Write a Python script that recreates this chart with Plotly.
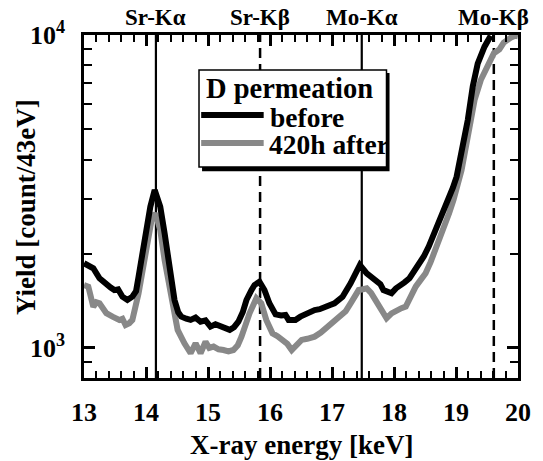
import plotly.graph_objects as go

# ---- data ----
before_x = [13.00, 13.07, 13.15, 13.25, 13.36, 13.43, 13.49, 13.55, 13.62, 13.70, 13.78, 13.84,
            13.88, 13.98, 14.07, 14.14, 14.23, 14.30, 14.38, 14.46, 14.52, 14.57, 14.65, 14.72,
            14.80, 14.88, 14.96, 15.04, 15.12, 15.20, 15.28, 15.35, 15.42, 15.49, 15.56, 15.62,
            15.70, 15.75, 15.83, 15.91, 15.99, 16.04, 16.09, 16.18, 16.25, 16.30, 16.41, 16.49,
            16.54, 16.62, 16.72, 16.80, 16.88, 16.96, 17.04, 17.17, 17.30, 17.45, 17.56, 17.63,
            17.70, 17.78, 17.83, 17.90, 17.96, 18.03, 18.09, 18.17, 18.25, 18.33, 18.41, 18.48,
            18.56, 18.64, 18.72, 18.80, 18.88, 18.95, 19.01, 19.09, 19.14, 19.19, 19.27, 19.35,
            19.46, 19.56]
before_y = [1865, 1840, 1797, 1670, 1589, 1560, 1531, 1540, 1458, 1423, 1458, 1520,
            1690, 2268, 2827, 3198, 2827, 2324, 1775, 1423, 1300, 1259, 1240, 1229,
            1250, 1213, 1225, 1170, 1190, 1170, 1150, 1142, 1165, 1213, 1300, 1423,
            1530, 1589, 1628, 1531, 1389, 1320, 1280, 1270, 1275, 1229, 1229, 1259,
            1275, 1291, 1322, 1330, 1355, 1370, 1389, 1458, 1609, 1841, 1732, 1690,
            1649, 1600, 1531, 1520, 1495, 1550, 1589, 1620, 1670, 1760, 1865, 1960,
            2108, 2300, 2532, 2750, 2971, 3250, 3527, 4188, 4600, 5349, 6838, 8100,
            9177, 9950]

after_x = [13.00, 13.07, 13.15, 13.20, 13.25, 13.36, 13.46, 13.57, 13.62, 13.67, 13.73, 13.78,
           13.88, 13.99, 14.09, 14.15, 14.23, 14.30, 14.41, 14.51, 14.62, 14.72, 14.80, 14.88,
           14.96, 15.02, 15.09, 15.17, 15.25, 15.33, 15.41, 15.48, 15.54, 15.67, 15.78, 15.86,
           15.94, 16.04, 16.12, 16.20, 16.28, 16.35, 16.43, 16.51, 16.60, 16.72, 16.82, 16.93,
           17.04, 17.14, 17.22, 17.30, 17.38, 17.43, 17.50, 17.56, 17.63, 17.70, 17.80, 17.88,
           17.96, 18.04, 18.12, 18.19, 18.27, 18.35, 18.43, 18.51, 18.59, 18.67, 18.75, 18.82,
           18.89, 18.96, 19.04, 19.09, 19.19, 19.30, 19.40, 19.51, 19.61, 19.70, 19.77, 19.88,
           19.95, 20.00]
after_y = [1589, 1570, 1355, 1400, 1389, 1291, 1259, 1229, 1240, 1184, 1200, 1229,
           1495, 2056, 2564, 2693, 2382, 1910, 1423, 1142, 1035, 962, 1035, 962,
           1047, 1000, 1010, 990, 985, 975, 985, 1020, 1087, 1291, 1441, 1389,
           1229, 1114, 1090, 1061, 1030, 985, 1030, 1061, 1070, 1087, 1120, 1170,
           1210, 1259, 1310, 1389, 1470, 1531, 1540, 1550, 1500, 1423, 1320, 1244,
           1290, 1322, 1340, 1355, 1460, 1570, 1650, 1732, 1880, 2056, 2250, 2441,
           2700, 2971, 3441, 3704, 4732, 6200, 7180, 8000, 8738, 9000, 9450, 9800,
           9950, 9900]

line_names = ["Sr-K\u03b1", "Sr-K\u03b2", "Mo-K\u03b1", "Mo-K\u03b2"]
line_energies = [14.16, 15.84, 17.48, 19.61]
line_dashes = ["solid", "dash", "solid", "dash"]

x_ticks = [13, 14, 15, 16, 17, 18, 19, 20]
x_minor = [13.2, 13.4, 13.6, 13.8, 14.2, 14.4, 14.6, 14.8, 15.2, 15.4, 15.6, 15.8,
           16.2, 16.4, 16.6, 16.8, 17.2, 17.4, 17.6, 17.8, 18.2, 18.4, 18.6, 18.8,
           19.2, 19.4, 19.6, 19.8]
y_ticks = [1000, 10000]
y_ticktext = ["10<sup>3</sup>", "10<sup>4</sup>"]
y_minor = [900, 2000, 3000, 4000, 5000, 6000, 7000, 8000, 9000]

X_RANGE = [13, 20]
Y_RANGE = [2.904, 4.0]  # log10

FONT = "Liberation Serif, Times New Roman, Times, serif"
fig = go.Figure()

fig.add_trace(go.Scatter(x=after_x, y=after_y, mode="lines", name="420h after",
                         line=dict(color="#888888", width=6), showlegend=False))
fig.add_trace(go.Scatter(x=before_x, y=before_y, mode="lines", name="before",
                         line=dict(color="black", width=6), showlegend=False))

shapes = []
annotations = []
for name, e, d in zip(line_names, line_energies, line_dashes):
    shapes.append(dict(type="line", xref="x", yref="paper", x0=e, x1=e, y0=0, y1=1,
                       layer="below",
                       line=dict(color="black", width=2.2 if d == "solid" else 2.5,
                                 dash="solid" if d == "solid" else "10px,6px")))
    annotations.append(dict(x=e, y=1.052, xref="x", yref="paper", text="<b>%s</b>" % name,
                            showarrow=False, xanchor="center", yanchor="middle",
                            font=dict(family=FONT, size=23, color="black")))

# legend box (manual, with drop shadow)
shapes.append(dict(type="rect", xref="paper", yref="paper", x0=0.272, x1=0.704, y0=0.603, y1=0.889,
                   fillcolor="black", line=dict(width=0), layer="above"))
shapes.append(dict(type="rect", xref="paper", yref="paper", x0=0.265, x1=0.697, y0=0.615, y1=0.898,
                   fillcolor="white", line=dict(color="black", width=1.5), layer="above"))
shapes.append(dict(type="line", xref="paper", yref="paper", x0=0.270, x1=0.414, y0=0.767, y1=0.767,
                   line=dict(color="black", width=6), layer="above"))
shapes.append(dict(type="line", xref="paper", yref="paper", x0=0.270, x1=0.414, y0=0.685, y1=0.685,
                   line=dict(color="#888888", width=6), layer="above"))
annotations.append(dict(x=0.277, y=0.843, xref="paper", yref="paper", text="<b>D permeation</b>",
                        showarrow=False, xanchor="left", yanchor="middle",
                        font=dict(family=FONT, size=28.5, color="black")))
annotations.append(dict(x=0.424, y=0.760, xref="paper", yref="paper", text="<b>before</b>",
                        showarrow=False, xanchor="left", yanchor="middle",
                        font=dict(family=FONT, size=27.5, color="black")))
annotations.append(dict(x=0.421, y=0.682, xref="paper", yref="paper", text="<b>420h after</b>",
                        showarrow=False, xanchor="left", yanchor="middle",
                        font=dict(family=FONT, size=27.5, color="black")))
# axis titles
annotations.append(dict(x=0.5, y=-0.196, xref="paper", yref="paper", text="<b>X-ray energy [keV]</b>",
                        showarrow=False, xanchor="center", yanchor="middle",
                        font=dict(family=FONT, size=27, color="black")))
annotations.append(dict(x=-0.135, y=0.5, xref="paper", yref="paper", text="<b>Yield [count/43eV]</b>",
                        showarrow=False, xanchor="center", yanchor="middle", textangle=-90,
                        font=dict(family=FONT, size=27, color="black")))

fig.update_layout(
    width=543, height=461,
    margin=dict(l=84, r=15, t=35, b=83),
    paper_bgcolor="white", plot_bgcolor="white",
    shapes=shapes, annotations=annotations,
    font=dict(family=FONT, color="black"),
    xaxis=dict(range=X_RANGE, tickmode="array", tickvals=x_ticks,
               ticktext=["<b>%d</b>" % v for v in x_ticks],
               ticks="inside", ticklen=11, tickwidth=2.5, tickcolor="black",
               minor=dict(tickmode="array", tickvals=x_minor, ticks="inside", ticklen=7,
                          tickwidth=2.2, tickcolor="black", showgrid=False),
               showline=True, linecolor="black", linewidth=2.5, mirror="allticks",
               showgrid=False, zeroline=False, ticklabelstandoff=9,
               tickfont=dict(family=FONT, size=26, color="black")),
    yaxis=dict(type="log", range=Y_RANGE, tickmode="array", tickvals=y_ticks,
               ticktext=["<b>%s</b>" % t for t in y_ticktext],
               ticks="inside", ticklen=11, tickwidth=2.5, tickcolor="black",
               minor=dict(tickmode="array", tickvals=y_minor, ticks="inside", ticklen=8,
                          tickwidth=2.2, tickcolor="black", showgrid=False),
               showline=True, linecolor="black", linewidth=2.5, mirror="allticks",
               showgrid=False, zeroline=False, ticklabelstandoff=11,
               tickfont=dict(family=FONT, size=26, color="black")),
)

fig.write_html("out.html")
